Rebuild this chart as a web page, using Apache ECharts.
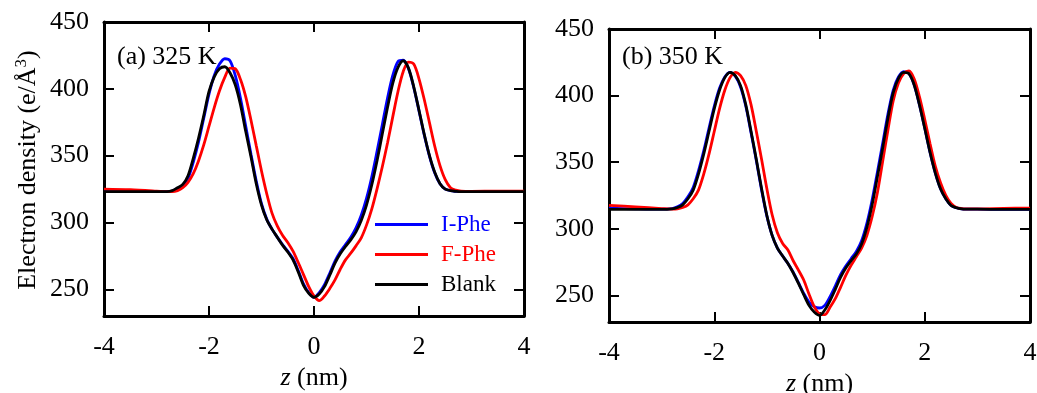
<!DOCTYPE html>
<html>
<head>
<meta charset="utf-8">
<script src="https://cdn.jsdelivr.net/npm/echarts@6/dist/echarts.min.js"></script>
<style>
  html, body { margin: 0; padding: 0; background: #fff; }
  #chart { width: 1037px; height: 393px; }
</style>
</head>
<body>
<div id="chart"></div>
<script>
// Position across the bilayer normal, z (nm)
const zValues = [-4,-3.5,-3,-2.8,-2.7,-2.6,-2.5,-2.4,-2.3,-2.2,-2.1,-2,-1.9,-1.8,-1.7,-1.6,-1.5,-1.4,-1.3,-1.2,-1.1,-1,-0.9,-0.8,-0.7,-0.6,-0.5,-0.4,-0.3,-0.2,-0.1,0,0.1,0.2,0.3,0.4,0.5,0.6,0.7,0.8,0.9,1,1.1,1.2,1.3,1.4,1.5,1.6,1.7,1.8,1.9,2,2.1,2.2,2.3,2.4,2.5,2.6,2.7,2.8,3,3.5,4];

// (a) 325 K electron density (e/Å^3)
const ipheA = [323,323,323,323, 323.5,325.5,327.5,333,345,360,378,396,410,418.5,422.5,421,410,393,372,351,331,314,302.5,295,289,283.5,278.5,273,264,254,247.5,244, 247.5,253.5,262,271,278,283.5,289,296,305.5,318,334,353,373,393,410,420.5,421.5,415,401,383.5,365.5,349.5,337,329,325,323.8,323.3, 323,323,323,323];
const fpheA = [325,324.5,323.5,323, 323,323.8,326,330,336.5,346,358,372,386,398.5,408.5,415.5,415,407,394,376.5,357.5,338.5,321.5,307,297.5,290.5,285,278.5,270,261,252,245, 241.5,245,250.5,257,265,272,277,282.5,288.5,298,310,325,341.5,359.5,379,398,413,420,418.5,407.5,392,374.5,357,342.5,332,326,324.2, 323.5,323.3,323.5,323.5];
const blankA = [323,323,323,323, 323.8,326,328.5,335,348,363,380,398,409,415,416.5,412,403,388,368,349,329,313,302,295,289,283,278,272,263,253,247,244, 246.5,252,260.5,269.5,276.5,282,287,293,301.5,313,328,346,366,386,404,416,421,415.5,401.5,384,366,350,337.5,329,325,323.8,323.3, 323,323,323,323];

// (b) 350 K electron density (e/Å^3)
const ipheB = [315.5,315,314.7,315.2, 316.5,319,324,331,343.5,358.5,375.5,392,405.5,414,417.5,414.5,406.5,392,372,351,329,309.5,295,285.5,279.5,274,267.5,259.5,251.5,245,241.5,240.5, 242.5,249,257,265.5,272,277.5,283,291,304,321.5,342.5,364,386,404,414,418,416.5,408,393,375.5,357.5,342,330,322.5,317.5,315.8,315, 314.8,314.7,314.5,314.5];
const fpheB = [317.5,316.5,315.2,314.8, 315,316,318,322.5,329,341,356,373,390,404,413.5,417.5,415,407.5,393,373,352,330,310.5,297,289,284,276,269,261.5,251,241.5,236, 235.5,241,247.5,256,265,272.5,279,285.5,295,309,327,350.5,374,396,409.5,416.5,418.5,412.5,399,382,364,347,334.5,325,319,316,315.2, 315,315,315.3,315.5];
const blankB = [314.5,314.5,314.5,315, 316,318,322.5,329,341,356,373,390,404,413.5,417.5,415,407.5,393,373,352,330,310,295,285.5,279.5,274,267,259,250.5,242.5,237.5,235, 239,246,254.5,263.5,270.5,276,281,288.5,301,318,339,360.5,383,402,413,417.5,416.5,408,393,375.5,357.5,342,330,322.5,317.5,315.8,315, 314.8,314.7,314.5,314.5];

const seriesNames = ['I-Phe', 'F-Phe', 'Blank'];
const seriesColors = ['#0000ff', '#ff0000', '#000000'];
const yLabelValues = [250, 300, 350, 400, 450];
const yTickValues = [250, 300, 350, 400];
const panelTitles = ['(a) 325 K', '(b) 350 K'];

const FONT = 'Liberation Serif';
const pairs = arr => zValues.map((z, i) => [z, arr[i]]);

const axisLineStyle = { show: true, onZero: false, lineStyle: { color: '#000', width: 3 } };
const tickStyle = { show: true, inside: true, length: 10, lineStyle: { color: '#000', width: 2 } };
const labelStyle = { fontFamily: FONT, fontSize: 26, color: '#000' };

function xAxes(grid, nameGap) {
  return [
    {
      type: 'value', gridIndex: grid, position: 'bottom', min: -4, max: 4, interval: 2,
      axisLine: axisLineStyle, axisTick: tickStyle, splitLine: { show: false },
      axisLabel: Object.assign({ margin: 18 }, labelStyle),
      name: '{i|z} (nm)', nameLocation: 'middle', nameGap: nameGap,
      nameTextStyle: {
        fontFamily: FONT, fontSize: 26, color: '#000',
        rich: { i: { fontFamily: FONT, fontSize: 26, fontStyle: 'italic', color: '#000' } }
      }
    },
    {
      type: 'value', gridIndex: grid, position: 'top', min: -4, max: 4, interval: 2,
      axisLine: axisLineStyle, axisTick: tickStyle, splitLine: { show: false },
      axisLabel: { show: false }
    }
  ];
}

function yAxes(grid, withName) {
  const left = {
    type: 'value', gridIndex: grid, position: 'left', min: 230, max: 450,
    axisLine: axisLineStyle, splitLine: { show: false },
    axisTick: Object.assign({ customValues: yTickValues }, tickStyle),
    axisLabel: Object.assign({ margin: 15, customValues: yLabelValues }, labelStyle)
  };
  if (withName) {
    Object.assign(left, {
      name: '{n|Electron density (e/Å}{s|3}{n|)}',
      nameLocation: 'middle', nameGap: 61, nameRotate: 90,
      nameTextStyle: {
        padding: [0, 2, 0, 0],
        rich: {
          n: { fontFamily: FONT, fontSize: 26, color: '#000', lineHeight: 30 },
          s: { fontFamily: FONT, fontSize: 17, color: '#000', verticalAlign: 'top', lineHeight: 17 }
        }
      }
    });
  }
  const right = {
    type: 'value', gridIndex: grid, position: 'right', min: 230, max: 450,
    axisLine: axisLineStyle, splitLine: { show: false },
    axisTick: Object.assign({ customValues: yTickValues }, tickStyle),
    axisLabel: { show: false }
  };
  return [left, right];
}

function panelSeries(data, xIdx, yIdx) {
  return data.map((arr, k) => ({
    type: 'line', name: seriesNames[k], xAxisIndex: xIdx, yAxisIndex: yIdx,
    data: pairs(arr), showSymbol: false, symbol: 'none', smooth: 0.3,
    lineStyle: { color: seriesColors[k], width: 2.8 }, itemStyle: { color: seriesColors[k] },
    z: 2 + k
  }));
}

const chart = echarts.init(document.getElementById('chart'), null, { renderer: 'canvas' });
chart.setOption({
  animation: false,
  backgroundColor: '#fff',
  textStyle: { fontFamily: FONT },
  grid: [
    { left: 104, top: 22, width: 420, height: 294, outerBoundsMode: 'none', containLabel: false },
    { left: 609, top: 29, width: 421, height: 293, outerBoundsMode: 'none', containLabel: false }
  ],
  xAxis: [].concat(xAxes(0, 43), xAxes(1, 45)),
  yAxis: [].concat(yAxes(0, true), yAxes(1, false)),
  legend: {
    orient: 'vertical', left: 370, top: 208,
    itemWidth: 53, itemHeight: 14, itemGap: 7,
    icon: 'path://M0,5.5L53,5.5L53,8.5L0,8.5Z',
    data: seriesNames.map((n, k) => ({
      name: n,
      itemStyle: { color: seriesColors[k] },
      textStyle: { color: seriesColors[k], fontFamily: FONT, fontSize: 23, lineHeight: 22, padding: [0, 0, 0, 8] }
    }))
  },
  graphic: [
    { type: 'text', left: 117, top: 44, style: { text: panelTitles[0], font: '26px "Liberation Serif"', fill: '#000' } },
    { type: 'text', left: 622, top: 44, style: { text: panelTitles[1], font: '26px "Liberation Serif"', fill: '#000' } }
  ],
  series: [].concat(
    panelSeries([ipheA, fpheA, blankA], 0, 0),
    panelSeries([ipheB, fpheB, blankB], 2, 2)
  )
});
</script>
</body>
</html>
